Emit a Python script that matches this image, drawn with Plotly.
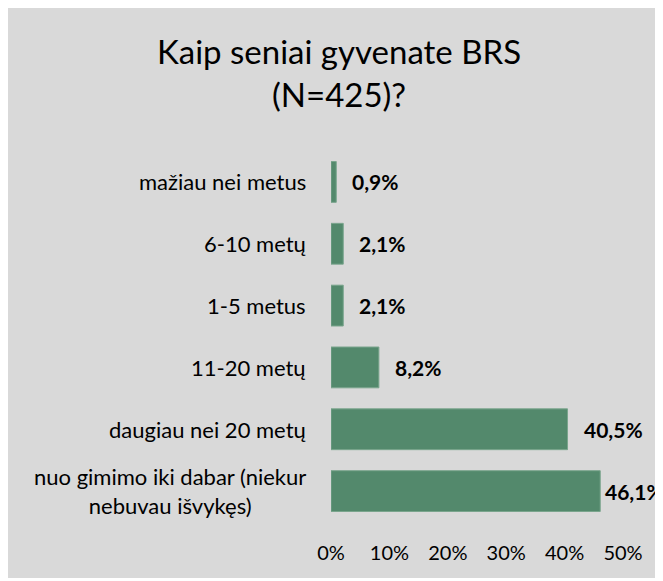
import plotly.graph_objects as go

categories = [
    "mažiau nei metus",
    "6-10 metų",
    "1-5 metus",
    "11-20 metų",
    "daugiau nei 20 metų",
    "nuo gimimo iki dabar (niekur<br>nebuvau išvykęs)",
]
values = [0.9, 2.1, 2.1, 8.2, 40.5, 46.1]
value_labels = ["0,9%", "2,1%", "2,1%", "8,2%", "40,5%", "46,1%"]
tick_vals = [0, 10, 20, 30, 40, 50]
tick_text = ["0%", "10%", "20%", "30%", "40%", "50%"]
title_text = "Kaip seniai gyvenate BRS<br>(N=425)?"

W, H = 663, 570
L, R, T, B = 323, 48, 143, 55.5
pw, ph = W - L - R, H - T - B
GRAY = "#d9d9d9"
BAR = "#53896c"
FONT = "Lato"


def py(p):
    return (H - B - p) / ph


def px(p):
    return (p - L) / pw


fig = go.Figure()
fig.add_trace(go.Bar(
    y=categories, x=values, orientation="h",
    marker=dict(color=BAR, line=dict(color="#7aa58d", width=1)),
    width=0.66, hoverinfo="skip",
))

annotations = []
for c, v, lab in zip(categories, values, value_labels):
    over = v > 45
    annotations.append(dict(
        x=v, y=c, xref="x", yref="y", text="<b>" + lab + "</b>",
        showarrow=False, xanchor="left", yanchor="middle",
        xshift=3 if over else 14,
        font=dict(family=FONT, size=21, color="#000000"),
    ))
    annotations.append(dict(
        x=0, y=c, xref="paper", yref="y", text=c, showarrow=False,
        xanchor="right", yanchor="middle", align="center", xshift=-23,
        font=dict(family=FONT, size=22, color="#000000"),
    ))

annotations.append(dict(
    x=px(331), y=py(64.5), xref="paper", yref="paper", text=title_text,
    showarrow=False, xanchor="center", yanchor="middle", align="center",
    font=dict(family=FONT, size=33, color="#000000"),
))

fig.update_layout(
    width=W, height=H,
    margin=dict(l=L, r=R, t=T, b=B, pad=0),
    paper_bgcolor=GRAY, plot_bgcolor=GRAY,
    showlegend=False,
    xaxis=dict(range=[0, 50], tickvals=tick_vals, ticktext=tick_text,
               showgrid=False, zeroline=False, showline=False, ticks="",
               tickfont=dict(family=FONT, size=20, color="#000000"),
               ticklabelstandoff=17, fixedrange=True),
    yaxis=dict(autorange="reversed", showticklabels=False, showgrid=False,
               zeroline=False, showline=False, ticks="", fixedrange=True),
    annotations=annotations,
)

fig.write_html("out.html", config={"displayModeBar": False})
